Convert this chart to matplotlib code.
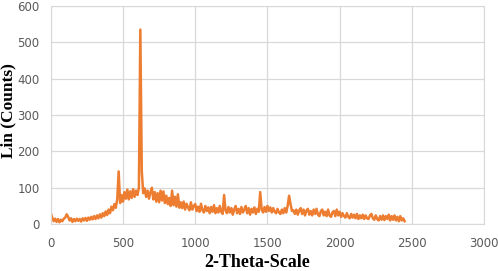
import numpy as np
import matplotlib
matplotlib.use("Agg")
import matplotlib.pyplot as plt

# intensity, one value every 10 units from 0 to 2450
counts = [
    30, 18, 8, 15, 6, 14, 5, 12, 8, 15,
    18, 27, 20, 10, 16, 6, 14, 8, 15, 9,
    14, 7, 16, 10, 17, 9, 18, 12, 20, 13,
    22, 14, 24, 16, 27, 18, 30, 22, 35, 25,
    40, 30, 48, 38, 55, 45, 68, 145, 58, 80,
    62, 88, 70, 95, 68, 90, 72, 96, 75, 92,
    80, 100, 535, 145, 85, 98, 75, 92, 70, 88,
    100, 68, 88, 62, 85, 60, 92, 65, 90, 58,
    78, 55, 72, 50, 92, 52, 75, 48, 82, 45,
    60, 44, 62, 40, 56, 46, 38, 60, 40, 50,
    55, 36, 48, 34, 56, 38, 32, 50, 36, 46,
    30, 47, 34, 52, 30, 44, 32, 50, 34, 28,
    80, 38, 30, 47, 32, 44, 26, 40, 50, 30,
    42, 28, 47, 32, 40, 50, 30, 44, 26, 42,
    32, 46, 28, 42, 34, 88, 40, 32, 47, 34,
    50, 36, 46, 32, 44, 34, 30, 42, 32, 28,
    40, 30, 44, 32, 50, 78, 55, 36, 38, 28,
    40, 26, 38, 44, 28, 40, 24, 37, 42, 26,
    36, 24, 40, 28, 42, 26, 22, 36, 40, 24,
    34, 22, 40, 24, 20, 32, 36, 22, 40, 24,
    34, 20, 30, 22, 18, 30, 20, 16, 28, 18,
    26, 16, 28, 14, 24, 16, 26, 14, 24, 16,
    14, 24, 28, 16, 12, 24, 14, 10, 22, 12,
    24, 11, 22, 14, 26, 10, 22, 12, 24, 10,
    20, 8, 22, 10, 16, 8,
]
theta = np.arange(len(counts)) * 10

xticks = [0, 500, 1000, 1500, 2000, 2500, 3000]
yticks = [0, 100, 200, 300, 400, 500, 600]

fig = plt.figure(figsize=(4.98, 2.71), dpi=100)
ax = fig.add_axes([0.102, 0.173, 0.870, 0.805])

ax.plot(theta, counts, color='#ED7D31', lw=1.8)

ax.set_xlim(0, 3000)
ax.set_ylim(0, 600)
ax.set_xticks(xticks)
ax.set_yticks(yticks)
ax.grid(True, color='#d9d9d9', lw=0.9)
ax.set_axisbelow(True)
for s in ax.spines.values():
    s.set_color('#d9d9d9')
ax.tick_params(length=0, labelsize=8.5, labelcolor='#595959')
ax.tick_params(axis='x', pad=9.5)
ax.tick_params(axis='y', pad=8)

ax.set_xlabel('2-Theta-Scale', family='Liberation Serif', weight='bold', fontsize=13)
ax.set_ylabel('Lin (Counts)', family='Liberation Serif', weight='bold', fontsize=12.5)
ax.xaxis.set_label_coords(0.476, -0.137)
ax.yaxis.set_label_coords(-0.079, 0.52)

fig.savefig('out.png', dpi=100)
